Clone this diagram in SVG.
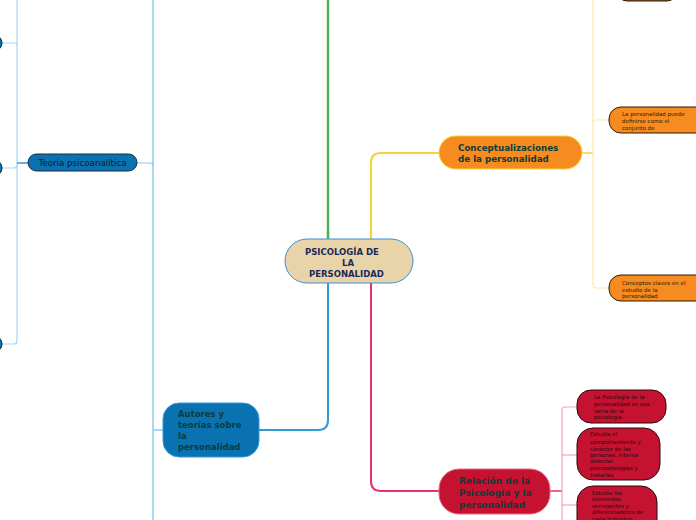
<svg xmlns="http://www.w3.org/2000/svg" width="696" height="520" viewBox="0 0 696 520">
<style>
text{font-family:"DejaVu Sans","Liberation Sans",sans-serif}
.c{fill:none}
.main{font-weight:bold;fill:#0b3d3a}
.sm{font-size:5.5px;fill:#2a1a0a}
.smr{font-size:5.5px;fill:#2a0a10}
.bluenode{fill:#0a72b0;stroke:#1a2a3a;stroke-width:1}
.orangenode{fill:#f68b1f;stroke:#2a1a0a;stroke-width:1}
.rednode{fill:#c41230;stroke:#2a0a10;stroke-width:1}
</style>
<rect width="696" height="520" fill="#ffffff"/>
<g id="connectors" class="c">
<path d="M328 0 V239" stroke="#4caf50" stroke-width="2.5"/>
<path d="M371 239 V163 Q371 153 381 153 H440" stroke="#f7d23a" stroke-width="2.2"/>
<path d="M328 283 V420 Q328 430 318 430 H259" stroke="#3399dd" stroke-width="2"/>
<path d="M371 283 V481 Q371 491 381 491 H440" stroke="#e8306a" stroke-width="2"/>
<path d="M153 0 V520" stroke="#8ccbf0" stroke-width="1.5"/>
<path d="M153 430 H163" stroke="#8ccbf0" stroke-width="1.5"/>
<path d="M137 163 H150 Q153 163 153 166" stroke="#8ccbf0" stroke-width="1.2"/>
<path d="M17 0 V341 Q17 344 14 344 H2" stroke="#a9d6f3" stroke-width="1.2"/>
<path d="M2 43 H14 Q17 43 17 46" stroke="#a9d6f3" stroke-width="1.2"/>
<path d="M2 168 H14 Q17 168 17 165" stroke="#a9d6f3" stroke-width="1.2"/>
<path d="M17 163 H28" stroke="#3399dd" stroke-width="1.5"/>
<path d="M582 153 H593" stroke="#f7d23a" stroke-width="1.5"/>
<path d="M593 0 V285 Q593 288 596 288 H609" stroke="#fde9a6" stroke-width="1.2"/>
<path d="M609 120 H596 Q593 120 593 123" stroke="#fde9a6" stroke-width="1.2"/>
<path d="M550 491 H562" stroke="#e8306a" stroke-width="1.5"/>
<path d="M577 407 H565 Q562 407 562 410 V520" stroke="#f5a3bd" stroke-width="1.2"/>
<path d="M562 455 H577" stroke="#f5a3bd" stroke-width="1.2"/>
<path d="M562 505 H577" stroke="#f5a3bd" stroke-width="1.2"/>
</g>
<g id="center">
<rect x="285" y="239" width="128" height="44" rx="22" fill="#e8d4a8" stroke="#3a8fd0" stroke-width="1"/>
<text font-size="8.5" font-weight="bold" fill="#1a2a5a"><tspan x="305" y="255">PSICOLOGÍA DE</tspan><tspan x="342" y="266">LA</tspan><tspan x="309" y="277">PERSONALIDAD</tspan></text>
</g>
<g id="autores">
<rect x="163" y="403" width="96" height="54" rx="16" fill="#0a72b0" stroke="#3399dd" stroke-width="1"/>
<text class="main" font-size="8.5"><tspan x="178" y="417">Autores y</tspan><tspan x="178" y="428">teorías sobre</tspan><tspan x="178" y="439">la</tspan><tspan x="178" y="450">personalidad</tspan></text>
</g>
<g id="teoria">
<rect x="28" y="154" width="109" height="17" rx="8.5" class="bluenode"/>
<text x="82.5" y="166" font-size="8.7" fill="#0d1b2a" text-anchor="middle">Teoría psicoanalítica</text>
</g>
<g id="left1"><rect x="-60" y="35" width="62" height="16" rx="8" class="bluenode"/></g>
<g id="left2"><rect x="-60" y="160" width="62" height="16" rx="8" class="bluenode"/></g>
<g id="left3"><rect x="-60" y="336" width="62" height="16" rx="8" class="bluenode"/></g>
<g id="conceptualizaciones">
<rect x="439" y="136" width="143" height="33" rx="16.5" fill="#f68b1f" stroke="#f7d23a" stroke-width="1"/>
<text class="main" font-size="8.7"><tspan x="458" y="151">Conceptualizaciones</tspan><tspan x="458" y="162">de la personalidad</tspan></text>
</g>
<g id="top-orange"><rect x="617" y="-30" width="60" height="31" rx="10" fill="#8a5a20" stroke="#2a1a0a" stroke-width="1"/></g>
<g id="definirse">
<rect x="609" y="107" width="120" height="26" rx="12" class="orangenode"/>
<text class="sm"><tspan x="622" y="116">La personalidad puede</tspan><tspan x="622" y="123">definirse como el</tspan><tspan x="622" y="130">conjunto de</tspan></text>
</g>
<g id="conceptos">
<rect x="609" y="275" width="120" height="26" rx="12" class="orangenode"/>
<text class="sm"><tspan x="622" y="285">Conceptos claves en el</tspan><tspan x="622" y="291.5">estudio de la</tspan><tspan x="622" y="298">personalidad</tspan></text>
</g>
<g id="relacion">
<rect x="439" y="469" width="111" height="45" rx="20" fill="#c41230" stroke="#e86a8a" stroke-width="1"/>
<text class="main" font-size="9"><tspan x="459" y="484">Relación de la</tspan><tspan x="459" y="496">Psicología y la</tspan><tspan x="459" y="508">personalidad</tspan></text>
</g>
<g id="rama">
<rect x="577" y="390" width="89" height="33" rx="14" class="rednode"/>
<text class="smr"><tspan x="594" y="399">La Psicología de la</tspan><tspan x="594" y="406">personalidad es una</tspan><tspan x="594" y="412.5">rama de la</tspan><tspan x="594" y="419">psicología</tspan></text>
</g>
<g id="comportamiento">
<rect x="577" y="428" width="83" height="52" rx="16" class="rednode"/>
<text class="smr"><tspan x="590" y="436">Estudia el</tspan><tspan x="590" y="444">comportamiento y</tspan><tspan x="590" y="450.5">carácter de las</tspan><tspan x="590" y="457">personas, intenta</tspan><tspan x="590" y="463">detectar</tspan><tspan x="590" y="470">psicopatologías y</tspan><tspan x="590" y="476.5">tratarlas</tspan></text>
</g>
<g id="elementos">
<rect x="577" y="486" width="80" height="50" rx="16" class="rednode"/>
<text class="smr"><tspan x="592" y="495">Estudia los</tspan><tspan x="592" y="501">elementos</tspan><tspan x="592" y="508">semejantes y</tspan><tspan x="592" y="514">diferenciadores de</tspan><tspan x="592" y="520.5">cada individuo</tspan></text>
</g>
</svg>
